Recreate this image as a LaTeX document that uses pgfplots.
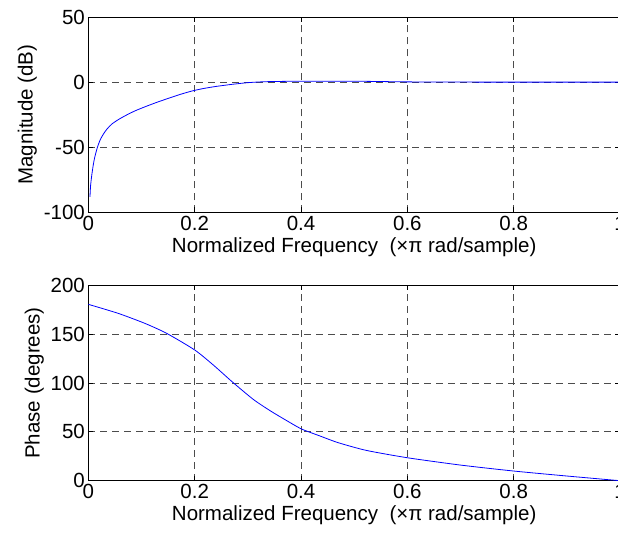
\documentclass[border=0pt]{standalone}
\usepackage{pgfplots}
\pgfplotsset{compat=1.18}
\usepackage{fontspec}
\setmainfont{Liberation Sans}
\newcommand\fs{\fontsize{20.5}{24}\selectfont}
\pgfplotsset{mystyle/.style={
  scale only axis, width=531.6pt, height=195.4pt,
  xmin=0, xmax=1, xtick={0,0.2,0.4,0.6,0.8,1}, xticklabels={0,0.2,0.4,0.6,0.8,1},
  grid=major, grid style={dash pattern=on 7pt off 5pt, black!70, line width=0.8pt},
  tick align=inside, major tick length=5pt,
  axis line style={line width=1pt}, tick style={black, line width=0.8pt},
  ticklabel style={font=\fs}, label style={font=\fs},
  xlabel={Normalized Frequency\ \ (×π rad/sample)},
  every axis plot/.append style={blue, line width=0.8pt, no markers, smooth, tension=0.4},
}}
\begin{document}
\begin{tikzpicture}
\clip (-88.4pt,17pt) rectangle (529.6pt,-519pt);
\begin{axis}[mystyle, at={(0,0)}, anchor=north west,
  ymin=-100, ymax=50, ytick={-100,-50,0,50}, yticklabels={-100,-50,0,50},
  ylabel={Magnitude (dB)}]
\addplot coordinates {
(0.003,-88) (0.004,-80) (0.006,-72.5) (0.009,-64) (0.012,-57.5) (0.017,-50)
(0.022,-44.5) (0.028,-40) (0.035,-36) (0.044,-32.2) (0.057,-28.6)
(0.072,-25.2) (0.088,-22) (0.106,-19) (0.128,-15.6) (0.15,-12.5) (0.172,-9.5)
(0.194,-6.9) (0.215,-5) (0.24,-3.3) (0.272,-1.6)
(0.3,-0.4) (0.33,0.3) (0.37,0.6) (0.4,0.7) (0.5,0.7) (0.56,0.4) (0.6,0.2)
(0.7,0.05) (0.8,0) (1,0)
};
\end{axis}
\begin{axis}[mystyle, at={(0,-268.3pt)}, anchor=north west,
  ymin=0, ymax=200, ytick={0,50,100,150,200}, yticklabels={0,50,100,150,200},
  ylabel={Phase (degrees)}]
\addplot coordinates {
(0,180.5) (0.056,171.3) (0.106,161.1) (0.147,150.9) (0.2,133.8)
(0.235,118.4) (0.271,101) (0.31,83.3) (0.342,71.6)
(0.373,61.5) (0.401,52.9) (0.436,45.7) (0.47,38.9) (0.523,31) (0.6,23.5)
(0.7,16) (0.8,9.9) (0.9,4.8) (1,0)
};
\end{axis}
\end{tikzpicture}
\end{document}
